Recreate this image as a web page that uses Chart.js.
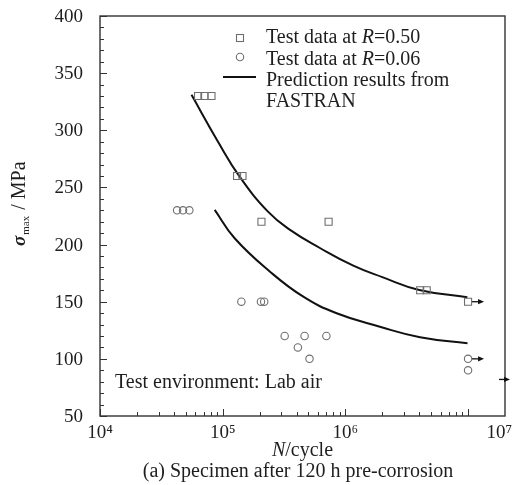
<!DOCTYPE html>
<html>
<head>
<meta charset="utf-8">
<script src="https://cdn.jsdelivr.net/npm/chart.js@4/dist/chart.umd.min.js"></script>
<style>
  html, body { margin: 0; padding: 0; background: #fff; }
  #wrap { width: 513px; height: 485px; }
</style>
</head>
<body>
<div id="wrap"><canvas id="snChart" width="513" height="485"></canvas></div>
<script>
/* ================================================================
   S-N curve, specimen after 120 h pre-corrosion
   - test data at R=0.50 / R=0.06, FASTRAN prediction lines
================================================================ */

const SERIF = '"Liberation Serif", "Times New Roman", serif';
const INK   = '#1e1e1e';
const MARK  = '#6e6e6e';

/* ── data (N in cycles, stress in MPa) ── */
const r050N = [6.3e4, 7.1e4, 8.1e4, 1.31e5, 1.45e5, 2.07e5, 7.3e5, 4.07e6, 4.6e6, 1.0e7];
const r050S = [330, 330, 330, 260, 260, 220, 220, 160, 160, 150];

const r006N = [4.25e4, 4.75e4, 5.35e4, 1.42e5, 2.05e5, 2.18e5, 3.2e5, 4.1e5, 4.65e5, 5.1e5, 7.0e5, 1.0e7, 1.0e7];
const r006S = [230, 230, 230, 150, 150, 150, 120, 110, 120, 100, 120, 100, 90];

const predHiN = [5.57e4, 9.16e4, 1.375e5, 2.34e5, 3.54e5, 6.2e5, 1.16e6, 2.0e6, 4.0e6, 9.87e6];
const predHiS = [331, 290, 259.4, 228.8, 212.8, 197, 181.5, 171.5, 160.3, 153.9];

const predLoN = [8.61e4, 1.252e5, 2.43e5, 4.54e5, 8.49e5, 1.91e6, 4.06e6, 9.9e6];
const predLoS = [230.3, 205.5, 176.3, 154.4, 139.9, 128.1, 118.9, 113.6];

// run-out specimens (arrows)
const runoutN = [1.0e7, 1.0e7];
const runoutS = [150, 100];

const xMin = 1e4, xMax = 2e7;
const yMin = 50,  yMax = 400;
const xTickVals   = [1e4, 1e5, 1e6, 2e7];
const xTickLabels = ['10⁴', '10⁵', '10⁶', '10⁷'];
const yTickVals   = [50, 100, 150, 200, 250, 300, 350, 400];

const toXY = (xs, ys) => xs.map((x, i) => ({ x, y: ys[i] }));

/* ── text helper: segments [text, italic] ── */
function drawRuns(ctx, runs, x, y, size) {
  let cx = x;
  runs.forEach(([t, it]) => {
    ctx.font = `${it ? 'italic ' : ''}${size}px ${SERIF}`;
    ctx.fillText(t, cx, y);
    cx += ctx.measureText(t).width;
  });
  return cx - x;
}
function runsWidth(ctx, runs, size) {
  let w = 0;
  runs.forEach(([t, it]) => {
    ctx.font = `${it ? 'italic ' : ''}${size}px ${SERIF}`;
    w += ctx.measureText(t).width;
  });
  return w;
}

function arrow(ctx, x0, x1, y) {
  ctx.beginPath();
  ctx.moveTo(x0, y); ctx.lineTo(x1 - 5, y);
  ctx.stroke();
  ctx.beginPath();
  ctx.moveTo(x1, y); ctx.lineTo(x1 - 6, y - 2.6); ctx.lineTo(x1 - 6, y + 2.6);
  ctx.closePath();
  ctx.fill();
}

/* ── frame, inward ticks, titles, legend ── */
const decorPlugin = {
  id: 'decor',
  afterDraw(chart) {
    const { ctx, chartArea: a, scales: { x, y } } = chart;
    ctx.save();

    // frame
    ctx.strokeStyle = '#333';
    ctx.lineWidth = 1.4;
    ctx.strokeRect(a.left, a.top, a.right - a.left, a.bottom - a.top);

    // y ticks (inward)
    ctx.lineWidth = 1;
    ctx.beginPath();
    for (let v = yMin; v <= yMax; v += 10) {
      const py = Math.round(y.getPixelForValue(v)) + 0.5;
      const len = v % 50 === 0 ? 7 : 4;
      ctx.moveTo(a.left, py); ctx.lineTo(a.left + len, py);
    }
    // x ticks (inward), log minors
    for (let d = 1e4; d <= 1e7; d *= 10) {
      for (let m = 1; m <= 9; m++) {
        const v = d * m;
        if (v > 1e7) break;
        const px = Math.round(x.getPixelForValue(v)) + 0.5;
        const len = m === 1 ? 7 : 4;
        ctx.moveTo(px, a.bottom); ctx.lineTo(px, a.bottom - len);
      }
    }
    ctx.stroke();

    // y tick labels
    ctx.fillStyle = INK;
    ctx.font = `19px ${SERIF}`;
    ctx.textAlign = 'right';
    ctx.textBaseline = 'middle';
    yTickVals.forEach(v => ctx.fillText(String(v), a.left - 17, y.getPixelForValue(v) + 1));
    ctx.textAlign = 'left';
    ctx.textBaseline = 'alphabetic';

    // x tick labels
    xTickVals.forEach((v, i) => {
      const w = ctx.measureText(xTickLabels[i]).width;
      let px = x.getPixelForValue(v) - w / 2;
      px = Math.min(px, chart.width - w - 1);
      ctx.fillText(xTickLabels[i], px, a.bottom + 22);
    });

    // x title
    const xt = [['N', true], ['/cycle', false]];
    const xw = runsWidth(ctx, xt, 20);
    drawRuns(ctx, xt, (a.left + a.right) / 2 - xw / 2, 456, 20);

    // caption
    ctx.font = `20px ${SERIF}`;
    ctx.textAlign = 'center';
    ctx.fillText('(a) Specimen after 120 h pre-corrosion', 298, 477);
    ctx.textAlign = 'left';

    // y title (rotated)
    ctx.save();
    ctx.translate(25, 246);
    ctx.rotate(-Math.PI / 2);
    ctx.font = `italic bold 19px ${SERIF}`;
    ctx.fillText('σ', 0, 0);
    let cx = ctx.measureText('σ').width + 1;
    ctx.font = `11px ${SERIF}`;
    ctx.fillText('max', cx, 4);
    cx += ctx.measureText('max').width + 1;
    ctx.font = `20px ${SERIF}`;
    ctx.fillText(' / MPa', cx, 0);
    ctx.restore();

    // annotation
    ctx.font = `20px ${SERIF}`;
    ctx.fillText('Test environment: Lab air', 115, 388);

    // run-out arrows
    ctx.strokeStyle = '#111';
    ctx.fillStyle = '#111';
    ctx.lineWidth = 1.3;
    runoutN.forEach((n, i) => {
      const px = x.getPixelForValue(n);
      const py = y.getPixelForValue(runoutS[i]);
      arrow(ctx, px + 4, px + 16, py);
    });
    // stray arrow on right border
    arrow(ctx, a.right - 6, a.right + 5, y.getPixelForValue(82));

    // legend
    const lx = 266;
    ctx.strokeStyle = MARK;
    ctx.lineWidth = 1.1;
    ctx.strokeRect(236.5, 34.5, 7, 7);
    ctx.beginPath();
    ctx.arc(240, 57, 3.7, 0, Math.PI * 2);
    ctx.stroke();
    ctx.strokeStyle = '#111';
    ctx.lineWidth = 2;
    ctx.beginPath();
    ctx.moveTo(223, 77); ctx.lineTo(256, 77);
    ctx.stroke();

    ctx.fillStyle = INK;
    drawRuns(ctx, [['Test data at ', false], ['R', true], ['=0.50', false]], lx, 43, 20);
    drawRuns(ctx, [['Test data at ', false], ['R', true], ['=0.06', false]], lx, 64.5, 20);
    drawRuns(ctx, [['Prediction results from', false]], lx, 85.5, 20);
    drawRuns(ctx, [['FASTRAN', false]], lx, 107, 20);

    ctx.restore();
  }
};

/* ── chart ── */
const snChart = new Chart(document.getElementById('snChart'), {
  type: 'scatter',
  data: {
    datasets: [
      {
        label: 'Test data at R=0.50',
        data: toXY(r050N, r050S),
        pointStyle: 'rect',
        pointRadius: 5,
        borderColor: MARK,
        backgroundColor: 'rgba(255,255,255,0)',
        borderWidth: 1.1,
      },
      {
        label: 'Test data at R=0.06',
        data: toXY(r006N, r006S),
        pointStyle: 'circle',
        pointRadius: 3.7,
        borderColor: MARK,
        backgroundColor: 'rgba(255,255,255,0)',
        borderWidth: 1.1,
      },
      {
        label: 'Prediction results from FASTRAN (R=0.50)',
        type: 'line',
        data: toXY(predHiN, predHiS),
        borderColor: '#111',
        borderWidth: 2,
        pointRadius: 0,
        tension: 0.45,
        fill: false,
      },
      {
        label: 'Prediction results from FASTRAN (R=0.06)',
        type: 'line',
        data: toXY(predLoN, predLoS),
        borderColor: '#111',
        borderWidth: 2,
        pointRadius: 0,
        tension: 0.45,
        fill: false,
      },
    ],
  },
  options: {
    responsive: false,
    animation: false,
    devicePixelRatio: 1,
    layout: { padding: { top: 16, right: 8, left: 0, bottom: 0 } },
    plugins: { legend: { display: false }, tooltip: { enabled: false } },
    scales: {
      x: {
        type: 'logarithmic',
        min: xMin,
        max: xMax,
        grid: { display: false },
        border: { display: false },
        ticks: { display: false },
        afterFit: s => { s.height = 69; },
      },
      y: {
        min: yMin,
        max: yMax,
        grid: { display: false },
        border: { display: false },
        ticks: { display: false },
        afterFit: s => { s.width = 100; },
      },
    },
  },
  plugins: [decorPlugin],
});
</script>
</body>
</html>
